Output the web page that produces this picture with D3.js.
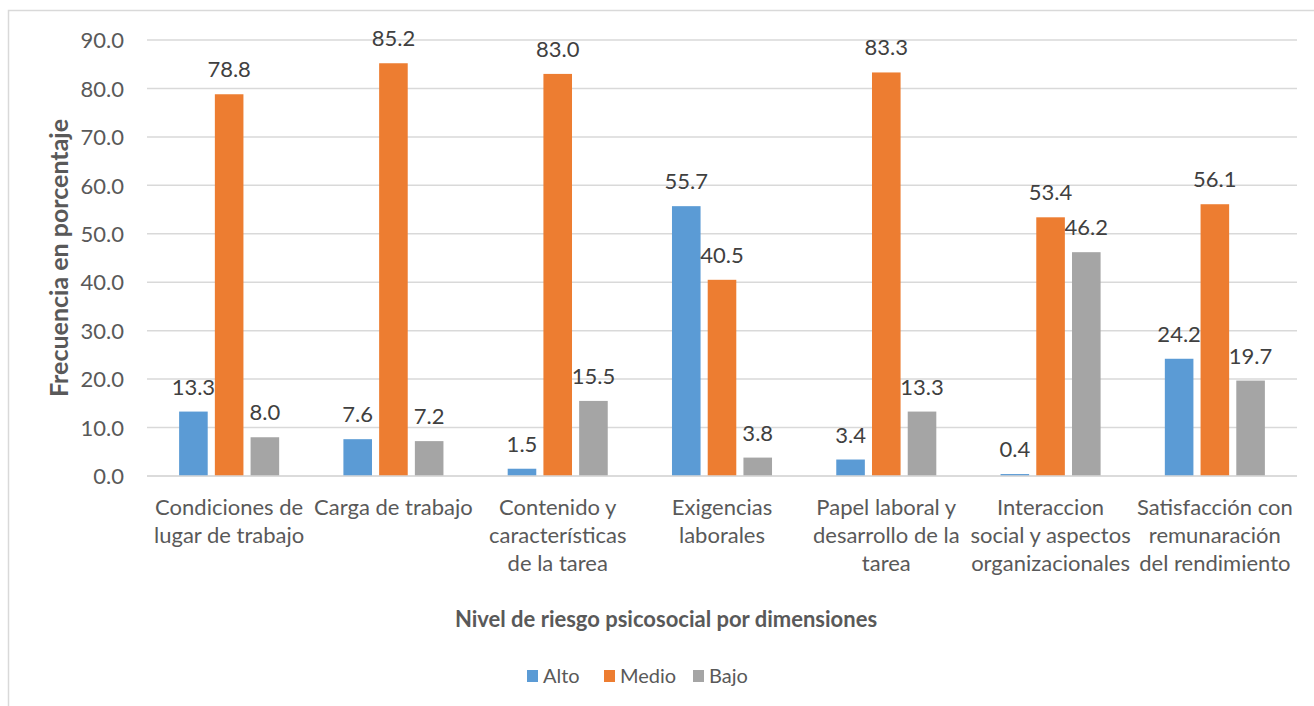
<!DOCTYPE html>
<html>
<head>
<meta charset="utf-8">
<script src="https://cdn.jsdelivr.net/npm/d3@7"></script>
<style>
  body { margin: 0; background: #fff; }
  #chart-wrapper { width: 1314px; height: 706px; }
  .bar-label { font-family: Lato, "Open Sans", sans-serif; font-size: 22px; fill: #404040; }
  .axis-text { font-family: Lato, "Open Sans", sans-serif; font-size: 22px; fill: #595959; }
  .legend-text { font-family: Lato, "Open Sans", sans-serif; font-size: 20px; fill: #595959; }
  .axis-title { font-family: Lato, "Open Sans", sans-serif; font-size: 22px; font-weight: bold; fill: #595959; }
  .axis-title-y { font-size: 25px; }
</style>
</head>
<body>
<div id="chart-wrapper"></div>
<script>
// data
const categories = [
    "Condiciones de lugar de trabajo",
    "Carga de trabajo",
    "Contenido y características de la tarea",
    "Exigencias laborales",
    "Papel laboral y desarrollo de la tarea",
    "Interaccion social y aspectos organizacionales",
    "Satisfacción con remunaración del rendimiento"
];
// tick label lines, as wrapped in the original
const categoryLines = [
    ["Condiciones de", "lugar de trabajo"],
    ["Carga de trabajo"],
    ["Contenido y", "características", "de la tarea"],
    ["Exigencias", "laborales"],
    ["Papel laboral y", "desarrollo de la", "tarea"],
    ["Interaccion", "social y aspectos", "organizacionales"],
    ["Satisfacción con", "remunaración", "del rendimiento"]
];
const series = ["Alto", "Medio", "Bajo"];
const alto  = [13.3, 7.6, 1.5, 55.7, 3.4, 0.4, 24.2];
const medio = [78.8, 85.2, 83.0, 40.5, 83.3, 53.4, 56.1];
const bajo  = [8.0, 7.2, 15.5, 3.8, 13.3, 46.2, 19.7];
const yTicks = [0, 10, 20, 30, 40, 50, 60, 70, 80, 90];

const colors = {Alto: "#5B9BD5", Medio: "#ED7D31", Bajo: "#A5A5A5"};

const config = {
    domId: "chart-wrapper",
    width: 1314,
    height: 706,
    padding: {top: 40, right: 17, bottom: 230, left: 147},
    label: {x: "Nivel de riesgo psicosocial por dimensiones", y: "Frecuencia en porcentaje"}
};
config.innerWidth = config.width - config.padding.left - config.padding.right;
config.innerHeight = config.height - config.padding.top - config.padding.bottom;

const rows = categories.map((c, i) => ({
    category: c,
    values: [
        {key: "Alto", value: alto[i]},
        {key: "Medio", value: medio[i]},
        {key: "Bajo", value: bajo[i]}
    ]
}));

const parentSvg = d3.select(`#${config.domId}`).append("svg")
    .attr("width", config.width)
    .attr("height", config.height);

// chart area border (top & left visible)
parentSvg.append("path")
    .attr("d", `M8.5,${config.height} V10.5 H${config.width}`)
    .attr("fill", "none")
    .attr("stroke", "#d9d9d9")
    .attr("stroke-width", 1.5);

const svg = parentSvg.append("g")
    .attr("transform", `translate(${config.padding.left}, ${config.padding.top})`);

const scale = {
    x0: d3.scaleBand().domain(categories).range([0, config.innerWidth]),
    y: d3.scaleLinear().domain([0, 90]).range([config.innerHeight, 0])
};
const bw = scale.x0.bandwidth();
const groupW = bw * 0.609;
scale.x1 = d3.scaleBand().domain(series)
    .range([(bw - groupW) / 2, (bw + groupW) / 2])
    .paddingInner(0.2);

// gridlines
svg.append("g")
    .selectAll("line")
    .data(yTicks)
    .join("line")
    .attr("x1", 0)
    .attr("x2", config.innerWidth)
    .attr("y1", d => scale.y(d))
    .attr("y2", d => scale.y(d))
    .attr("stroke", "#d9d9d9")
    .attr("stroke-width", 1.5);

// y axis
const yAxis = svg.append("g")
    .attr("transform", "translate(-23,0)")
    .call(d3.axisLeft(scale.y).tickValues(yTicks).tickFormat(d3.format(".1f")).tickSize(0).tickPadding(0));
yAxis.select(".domain").remove();
yAxis.selectAll("text")
    .attr("class", "axis-text")
    .attr("fill", null)
    .attr("dy", "0.35em");

// bars
const groups = svg.selectAll(".cat-group")
    .data(rows)
    .join("g")
    .attr("class", "cat-group")
    .attr("transform", d => `translate(${scale.x0(d.category)},0)`);

groups.selectAll("rect")
    .data(d => d.values)
    .join("rect")
    .attr("x", d => scale.x1(d.key))
    .attr("y", d => scale.y(d.value))
    .attr("width", scale.x1.bandwidth())
    .attr("height", d => config.innerHeight - scale.y(d.value))
    .attr("fill", d => colors[d.key]);

groups.selectAll(".bar-label")
    .data(d => d.values)
    .join("text")
    .attr("class", "bar-label")
    .attr("text-anchor", "middle")
    .attr("x", d => scale.x1(d.key) + scale.x1.bandwidth() / 2)
    .attr("y", d => scale.y(d.value) - 17)
    .text(d => d3.format(".1f")(d.value));

// x axis baseline
svg.append("line")
    .attr("x1", 0)
    .attr("x2", config.innerWidth)
    .attr("y1", config.innerHeight)
    .attr("y2", config.innerHeight)
    .attr("stroke", "#d9d9d9")
    .attr("stroke-width", 1.5);

// x tick labels (wrapped)
const xLabels = svg.append("g")
    .selectAll("text")
    .data(categories)
    .join("text")
    .attr("class", "axis-text")
    .attr("text-anchor", "middle")
    .attr("x", d => scale.x0(d) + bw / 2)
    .attr("y", config.innerHeight + 39);
xLabels.selectAll("tspan")
    .data((d, i) => categoryLines[i])
    .join("tspan")
    .attr("x", function() { return d3.select(this.parentNode).attr("x"); })
    .attr("dy", (d, i) => i === 0 ? 0 : 28)
    .text(d => d);

// axis titles
parentSvg.append("text")
    .attr("class", "axis-title")
    .attr("text-anchor", "middle")
    .attr("x", 666)
    .attr("y", 627)
    .text(config.label.x);

parentSvg.append("text")
    .attr("class", "axis-title axis-title-y")
    .attr("text-anchor", "middle")
    .attr("transform", "translate(68,258) rotate(-90)")
    .text(config.label.y);

// legend
const legendX = [527, 604, 693];
const legend = parentSvg.append("g")
    .selectAll("g")
    .data(series)
    .join("g")
    .attr("transform", (d, i) => `translate(${legendX[i]},676)`);
legend.append("rect")
    .attr("x", 0)
    .attr("y", -6)
    .attr("width", 11)
    .attr("height", 12)
    .attr("fill", d => colors[d]);
legend.append("text")
    .attr("class", "legend-text")
    .attr("x", 16)
    .attr("dy", "0.35em")
    .text(d => d);
</script>
</body>
</html>
